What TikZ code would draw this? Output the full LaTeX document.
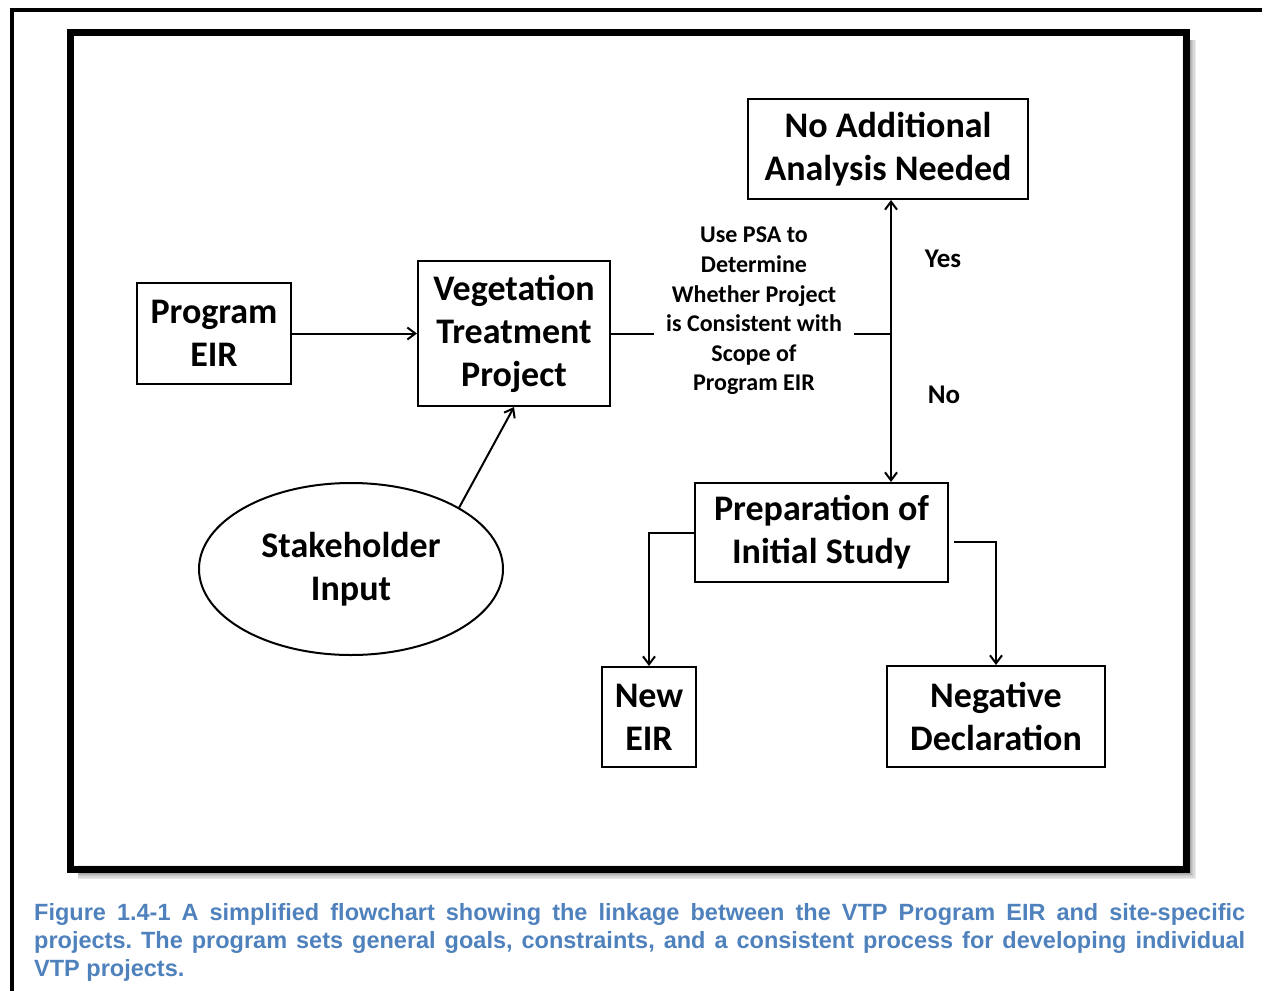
\documentclass[tikz,border=0pt]{standalone}
\usepackage{fontspec}
\setmainfont{Carlito}
\newfontfamily\capfont{Liberation Sans}
\usetikzlibrary{arrows.meta,shapes.geometric}
\definecolor{capblue}{RGB}{79,129,189}
\tikzset{
  box/.style={draw, line width=2pt, align=center, inner sep=0pt,
    font=\bfseries\fontsize{36}{43}\selectfont},
  flow/.style={line width=2pt, -{Straight Barb[length=8pt,width=12pt]}},
  small/.style={font=\bfseries\fontsize{24}{29.6}\selectfont, align=center},
  answer/.style={font=\bfseries\fontsize{27}{30}\selectfont},
}

\begin{document}
\begin{tikzpicture}[x=1pt,y=-1pt]
	\useasboundingbox (0,0) rectangle (1262,991);
	% page frame
	\draw[line width=4pt] (12,1010) -- (12,10) -- (1280,10);
	% shadow and frame of the chart
	\foreach \d in {1,...,6}
		\draw[black, opacity=0.08, line width=\d*2.2pt] (1189,40) -- (1189,872) -- (78,872);
	\draw[line width=7pt] (70.5,32) rectangle (1186,869);
	% boxes
	\node[box, minimum width=154pt, minimum height=101pt] (peir) at (214,333.5) {Program\\EIR};
	\node[box, minimum width=192pt, minimum height=145pt] (vtp) at (514,333.5) {Vegetation\\Treatment\\Project};
	\node[box, minimum width=280pt, minimum height=100pt] (noadd) at (888,149) {No Additional\\Analysis Needed};
	\node[box, minimum width=253pt, minimum height=99pt] (prep) at (821.5,532.5) {Preparation of\\Initial Study};
	\node[box, minimum width=94pt, minimum height=100pt] (neweir) at (649,717) {New\\EIR};
	\node[box, minimum width=218pt, minimum height=101pt] (negdec) at (996,716.5) {Negative\\Declaration};
	\node[box, ellipse, minimum width=304pt, minimum height=172pt] (stake) at (351,569) {Stakeholder\\Input};
	% decision
	\node[small, inner sep=12pt] (psa) at (754,311) {Use PSA to\\Determine\\Whether Project\\is Consistent with\\Scope of\\Program EIR};
	\coordinate (fork) at (891,334);
	\node[answer] (yes) at (943,259) {Yes};
	\node[answer] (no) at (944,395) {No};
	% connectors
	\draw[flow] (peir) -- (vtp);
	\draw[flow] (stake.north east) -- (vtp.south);
	\draw[line width=2pt] (vtp.east) -- (vtp.east -| psa.west);
	\draw[line width=2pt] (fork -| psa.east) -- (fork);
	\draw[flow] (fork) -- (fork |- noadd.south);
	\draw[flow] (fork) -- (fork |- prep.north);
	\draw[flow] (prep.west) -| (neweir.north);
	\draw[flow] ([xshift=5pt,yshift=-9.5pt]prep.east) -| (negdec.north);
	% caption
	\node[anchor=north west, text width=1211pt, align=justify, inner sep=0pt, text=capblue,
		font=\capfont\bfseries\fontsize{23.5}{28}\selectfont\frenchspacing] (cap) at (34,903)
		{Figure 1.4-1 A simplified flowchart showing the linkage between the VTP Program EIR and site-specific\linebreak
		projects. The program sets general goals, constraints, and a consistent process for developing individual\linebreak
		VTP projects.};
\end{tikzpicture}
\end{document}
